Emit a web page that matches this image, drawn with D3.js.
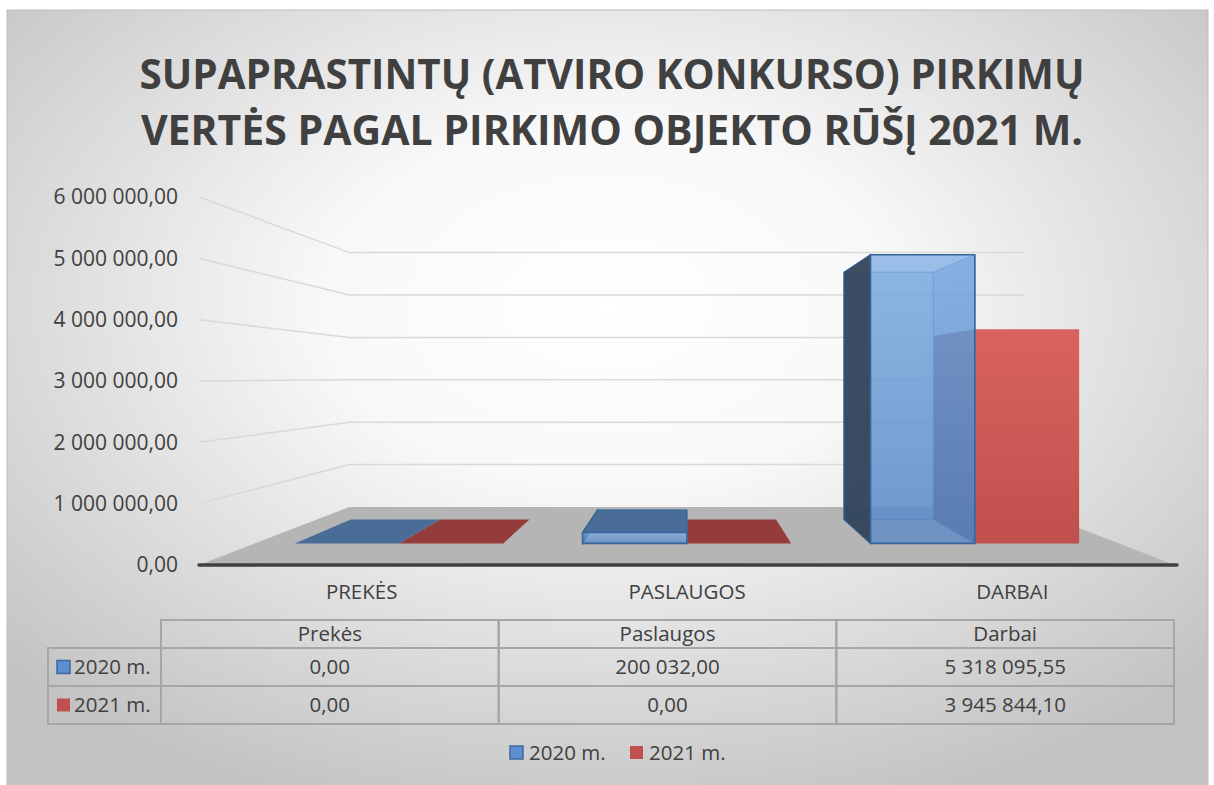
<!DOCTYPE html>
<html>
<head>
<meta charset="utf-8">
<script src="https://cdn.jsdelivr.net/npm/d3@7"></script>
<style>
  body { margin: 0; background: #fff; }
  svg { display: block; font-family: "Open Sans", sans-serif; }
</style>
</head>
<body>
<script>
// data
var categories = ["Prekės", "Paslaugos", "Darbai"];
var seriesNames = ["2020 m.", "2021 m."];
var values2020 = [0, 200032.00, 5318095.55];
var values2021 = [0, 0, 3945844.10];
var yTicks = [0, 1000000, 2000000, 3000000, 4000000, 5000000, 6000000];
var titleLines = ["SUPAPRASTINTŲ (ATVIRO KONKURSO) PIRKIMŲ", "VERTĖS PAGAL PIRKIMO OBJEKTO RŪŠĮ 2021 M."];

var svgWidth = 1214;
var svgHeight = 785;
var textColor = "#404040";
var fontSize = 20.5;

var lt = d3.formatLocale({decimal: ",", thousands: "\u00a0", grouping: [3], currency: ["", ""]});
var fmt = lt.format(",.2f");

var svg = d3.select("body").append("svg")
    .attr("width", svgWidth)
    .attr("height", svgHeight);

var defs = svg.append("defs");

var bg = defs.append("radialGradient").attr("id", "bg")
    .attr("cx", "50%").attr("cy", "38%").attr("r", "68%");
bg.append("stop").attr("offset", "0").attr("stop-color", "#ffffff");
bg.append("stop").attr("offset", "0.35").attr("stop-color", "#f8f8f8");
bg.append("stop").attr("offset", "1").attr("stop-color", "#c3c3c3");

var gBlue = defs.append("linearGradient").attr("id", "gBlue").attr("x1", 0).attr("y1", 0).attr("x2", 0).attr("y2", 1);
gBlue.append("stop").attr("offset", "0").attr("stop-color", "#7dade4");
gBlue.append("stop").attr("offset", "1").attr("stop-color", "#5587c6");

var gRed = defs.append("linearGradient").attr("id", "gRed").attr("x1", 0).attr("y1", 0).attr("x2", 0).attr("y2", 1);
gRed.append("stop").attr("offset", "0").attr("stop-color", "#d9635e");
gRed.append("stop").attr("offset", "1").attr("stop-color", "#c0504d");

// chart area
svg.append("rect")
    .attr("x", 7).attr("y", 10)
    .attr("width", 1201).attr("height", 776)
    .attr("fill", "url(#bg)")
    .attr("stroke", "#bdbdbd");

// title: one text, two lines
var title = svg.append("text")
    .attr("text-anchor", "middle")
    .attr("font-size", 41)
    .attr("font-weight", "bold")
    .attr("fill", textColor);
titleLines.forEach(function(t, i) {
    var ts = title.append("tspan")
        .attr("x", 612)
        .attr("y", 89 + i * 56)
        .text(t);
    if (ts.node().getComputedTextLength() > 945) {
        ts.attr("textLength", 945).attr("lengthAdjust", "spacingAndGlyphs");
    }
});

// scales (front plane), then a simple perspective into depth
var floorLeft = 199, floorRight = 1175;
var yScale = d3.scaleLinear().domain([0, 6000000]).range([565, 197]);
var xBand = d3.scaleBand().domain(categories).range([floorLeft, floorRight]);
var xSub = d3.scaleBand().domain(seriesNames).range([0, xBand.bandwidth()]).paddingOuter(0.38);
var depth = d3.scaleLinear().domain([0, 1]).range([1, 0.691]);
var vp = {x: 686, y: 377};
var zFront = 0.372, zBack = 0.783;

function proj(X, Y, z) {
    var s = depth(z);
    return [vp.x + (X - vp.x) * s, vp.y + (Y - vp.y) * s];
}

var plot = svg.append("g");

// gridlines on side and back walls
plot.selectAll(".grid")
    .data(yTicks.slice(1))
    .enter()
    .append("polyline")
    .attr("points", d => [proj(floorLeft, yScale(d), 0), proj(floorLeft, yScale(d), 1), proj(floorRight, yScale(d), 1)].join(" "))
    .attr("fill", "none")
    .attr("stroke", "#d9d9d9")
    .attr("stroke-width", 1.5);

// floor
var y0 = yScale(0);
plot.append("polygon")
    .attr("points", [proj(floorLeft, y0, 0), proj(floorLeft, y0, 1), proj(floorRight, y0, 1), proj(floorRight, y0, 0)].join(" "))
    .attr("fill", "#b5b5b5");
plot.append("line")
    .attr("x1", floorLeft).attr("x2", floorRight + 2)
    .attr("y1", y0).attr("y2", y0)
    .attr("stroke", "#404040")
    .attr("stroke-width", 3.5)
    .attr("stroke-linecap", "round");

// y axis labels
var yAxis = svg.append("g")
    .attr("transform", "translate(187,0)")
    .call(d3.axisLeft(yScale).tickValues(yTicks).tickFormat(fmt).tickSize(0).tickPadding(9));
yAxis.select(".domain").remove();
yAxis.selectAll("text").attr("font-size", 21).attr("font-family", "Open Sans").attr("fill", textColor);

// category labels
var xAxis = svg.append("g")
    .attr("transform", "translate(0," + y0 + ")")
    .call(d3.axisBottom(xBand).tickFormat(d => d.toUpperCase()).tickSize(0).tickPadding(19));
xAxis.select(".domain").remove();
xAxis.selectAll("text").attr("font-size", fontSize).attr("font-family", "Open Sans").attr("fill", textColor);

// bars
var bars = [];
categories.forEach(function(c, i) {
    bars.push({cat: c, series: seriesNames[1], value: values2021[i]});
    bars.push({cat: c, series: seriesNames[0], value: values2020[i]});
});

function box(d) {
    var x0 = xBand(d.cat) + xSub(d.series), x1 = x0 + xSub.bandwidth();
    var yt = yScale(d.value), yb = yScale(0);
    var f = {tl: proj(x0, yt, zFront), tr: proj(x1, yt, zFront), bl: proj(x0, yb, zFront), br: proj(x1, yb, zFront)};
    var b = {tl: proj(x0, yt, zBack), tr: proj(x1, yt, zBack), bl: proj(x0, yb, zBack), br: proj(x1, yb, zBack)};
    return {
        front: [f.tl, f.tr, f.br, f.bl],
        back: [b.tl, b.tr, b.br, b.bl],
        left: [b.tl, f.tl, f.bl, b.bl],
        right: [b.tr, f.tr, f.br, b.br],
        top: [b.tl, b.tr, f.tr, f.tl],
        topVisible: yt >= vp.y,
        height: yb - yt
    };
}

function face(g, pts) {
    return g.append("polygon").attr("points", pts.join(" "));
}

bars.forEach(function(d) {
    var bx = box(d);
    var g = plot.append("g");
    if (d.series === "2021 m.") {
        if (bx.height > 0) face(g, bx.left).attr("fill", "#6e2c2b");
        if (bx.topVisible) face(g, bx.top).attr("fill", "#943c3b");
        if (bx.height > 0) face(g, bx.front).attr("fill", "url(#gRed)");
    } else {
        if (bx.height > 0) {
            face(g, bx.back).attr("fill", "#5a88c5").attr("fill-opacity", 0.35)
                .attr("stroke", "#5b89c2").attr("stroke-width", 1);
            face(g, bx.right).attr("fill", "#5a88c5").attr("fill-opacity", 0.5)
                .attr("stroke", "#5b89c2").attr("stroke-width", 1);
            face(g, bx.left).attr("fill", "#2f4258").attr("fill-opacity", 0.93)
                .attr("stroke", "#2f5a8c").attr("stroke-width", 1.2);
        }
        if (bx.topVisible) {
            face(g, bx.top).attr("fill", "#4a6d98")
                .attr("stroke", bx.height > 0 ? "#35659b" : "none").attr("stroke-width", 1.2);
        }
        if (bx.height > 0) {
            face(g, bx.front).attr("fill", "url(#gBlue)").attr("fill-opacity", 0.75)
                .attr("stroke", "#35659b").attr("stroke-width", 1.6);
        }
    }
});

// data table
var tableX = d3.scaleBand().domain(categories).range([161, 1174]);
var headTop = 620, rowTops = [648, 686], rowH = 38, labelLeft = 48;
var tbl = svg.append("g");
var border = "#a6a6a6";

categories.forEach(function(c) {
    tbl.append("rect")
        .attr("x", tableX(c)).attr("y", headTop)
        .attr("width", tableX.bandwidth()).attr("height", rowTops[0] - headTop)
        .attr("fill", "none").attr("stroke", border).attr("stroke-width", 2);
    tbl.append("text")
        .attr("x", tableX(c) + tableX.bandwidth() / 2)
        .attr("y", (headTop + rowTops[0]) / 2)
        .attr("dy", "0.35em")
        .attr("text-anchor", "middle")
        .attr("font-size", fontSize).attr("fill", textColor)
        .text(c);
});

var rowValues = [values2020, values2021];
var keyColors = ["#5b8fd0", "#c0504d"];
seriesNames.forEach(function(s, r) {
    var yTop = rowTops[r];
    tbl.append("rect")
        .attr("x", labelLeft).attr("y", yTop)
        .attr("width", tableX.range()[0] - labelLeft).attr("height", rowH)
        .attr("fill", "none").attr("stroke", border).attr("stroke-width", 2);
    tbl.append("rect")
        .attr("x", 57).attr("y", yTop + rowH / 2 - 6.5)
        .attr("width", 13).attr("height", 13)
        .attr("fill", keyColors[r])
        .attr("stroke", r === 0 ? "#3d6a9e" : "none").attr("stroke-width", 1.5);
    tbl.append("text")
        .attr("x", 74).attr("y", yTop + rowH / 2).attr("dy", "0.35em")
        .attr("font-size", fontSize).attr("fill", textColor)
        .text(s);
    categories.forEach(function(c, i) {
        tbl.append("rect")
            .attr("x", tableX(c)).attr("y", yTop)
            .attr("width", tableX.bandwidth()).attr("height", rowH)
            .attr("fill", "none").attr("stroke", border).attr("stroke-width", 2);
        tbl.append("text")
            .attr("x", tableX(c) + tableX.bandwidth() / 2)
            .attr("y", yTop + rowH / 2).attr("dy", "0.35em")
            .attr("text-anchor", "middle")
            .attr("font-size", fontSize).attr("fill", textColor)
            .text(fmt(rowValues[r][i]));
    });
});

// legend
var legend = svg.append("g").attr("transform", "translate(510,753)");
seriesNames.forEach(function(s, i) {
    var lg = legend.append("g").attr("transform", "translate(" + (i * 120) + ",0)");
    lg.append("rect")
        .attr("x", 0).attr("y", -7)
        .attr("width", 13).attr("height", 13)
        .attr("fill", keyColors[i])
        .attr("stroke", i === 0 ? "#3d6a9e" : "none").attr("stroke-width", 1.5);
    lg.append("text")
        .attr("x", 19).attr("y", 0).attr("dy", "0.35em")
        .attr("font-size", fontSize).attr("fill", textColor)
        .text(s);
});
</script>
</body>
</html>
